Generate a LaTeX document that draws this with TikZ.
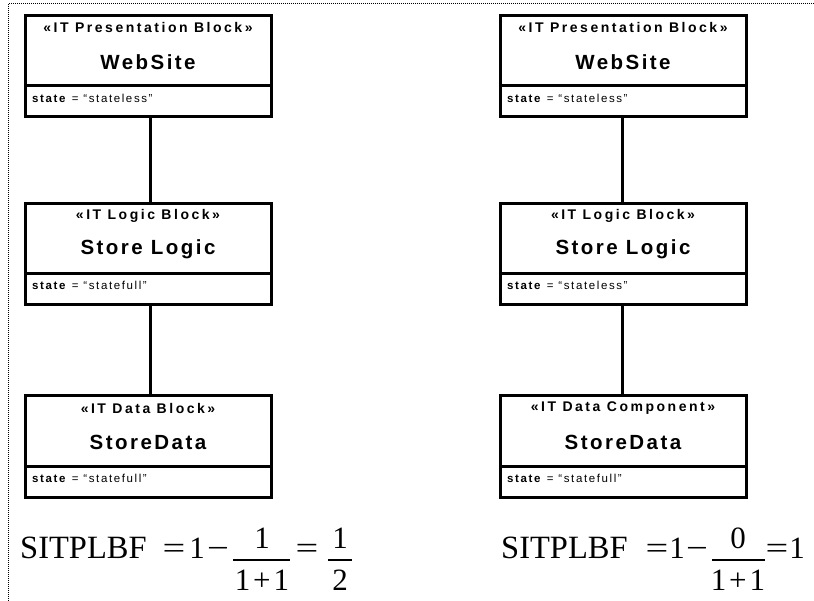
\documentclass[tikz,border=0pt]{standalone}
\usepackage{graphicx}
\usepackage{fontspec}
\newfontfamily\stereofont[LetterSpace=18]{Liberation Sans}
\newfontfamily\namefont[LetterSpace=12]{Liberation Sans}
\newfontfamily\statefont[LetterSpace=14]{Liberation Sans}
\newfontfamily\timesfont{Liberation Serif}
\newcommand{\wideeq}{\scalebox{1.3}[1]{=}}
\newcommand{\widemin}{\scalebox{1.25}[1]{−}}
\tikzset{
  umlbox/.style={draw, line width=3pt, minimum width=246pt, minimum height=101pt, inner sep=0pt, outer sep=0pt},
  divline/.style={line width=3pt},
  conn/.style={line width=3pt},
  stereo/.style={inner sep=0pt, font=\stereofont\bfseries\fontsize{14}{16}\selectfont},
  bname/.style={inner sep=0pt, font=\namefont\bfseries\fontsize{20.5}{24}\selectfont},
  stattxt/.style={inner sep=0pt, anchor=west, font=\statefont\fontsize{11.5}{13}\selectfont},
  frm/.style={inner sep=0pt, anchor=base, font=\timesfont\fontsize{31}{35}\selectfont},
  frmw/.style={frm, anchor=base west, font=\timesfont\fontsize{32.5}{36}\selectfont},
  fbar/.style={line width=1.3pt},
  frame/.style={line width=1pt, dash pattern=on 1pt off 1pt}
}
\newcommand{\umlblock}[6]{%
  % #1 name prefix, #2 x center, #3 y center, #4 stereotype, #5 name, #6 state value
  \node[umlbox] (#1) at (#2,#3) {};
  \node[stereo] (#1s) at ([yshift=-12pt]#1.north) {«#4»};
  \node[bname] (#1n) at ([yshift=-46pt]#1.north) {#5};
  \coordinate (#1dl) at ([yshift=31pt]#1.south west);
  \coordinate (#1dr) at ([yshift=31pt]#1.south east);
  \draw[divline] (#1dl) -- (#1dr);
  \node[stattxt] (#1t) at ([xshift=7pt,yshift=19pt]#1.south west) {\textbf{state} = “#6”};
}
\begin{document}
\begin{tikzpicture}[x=1pt,y=-1pt]
\useasboundingbox (0,0) rectangle (814,601);
\coordinate (fa) at (8,4);
\coordinate (fb) at (814,4);
\coordinate (fc) at (8,601);
\draw[frame] (fb) -- (fa) -- (fc);

\umlblock{L1}{148}{66.5}{IT Presentation Block}{WebSite}{stateless}
\umlblock{L2}{148}{254}{IT Logic Block}{Store Logic}{statefull}
\umlblock{L3}{148}{446.5}{IT Data Block}{StoreData}{statefull}
\umlblock{R1}{623}{66.5}{IT Presentation Block}{WebSite}{stateless}
\umlblock{R2}{623}{254}{IT Logic Block}{Store Logic}{stateless}
\umlblock{R3}{623}{446.5}{IT Data Component}{StoreData}{statefull}

\draw[conn] ([xshift=2pt]L1.south) -- ([xshift=2pt]L2.north);
\draw[conn] ([xshift=2pt]L2.south) -- ([xshift=2pt]L3.north);
\draw[conn] ([xshift=-1pt]R1.south) -- ([xshift=-1pt]R2.north);
\draw[conn] ([xshift=-1pt]R2.south) -- ([xshift=-1pt]R3.north);

% left formula
\node[frmw] (lf0) at (20,558) {SITPLBF};
\node[frm] (lf1) at (174,558) {\wideeq};
\node[frm] (lf2) at (197,558) {1};
\node[frm] (lf3) at (218,558) {\widemin};
\node[frm] (lf4) at (262,548) {1};
\node[frm] (lf5) at (262,590) {1\kern3pt+\kern3pt1};
\coordinate (lb1a) at (233,560); \coordinate (lb1b) at (290,560);
\draw[fbar] (lb1a) -- (lb1b);
\node[frm] (lf6) at (307,558) {\wideeq};
\node[frm] (lf7) at (340,548) {1};
\node[frm] (lf8) at (340,590) {2};
\coordinate (lb2a) at (328,560); \coordinate (lb2b) at (352,560);
\draw[fbar] (lb2a) -- (lb2b);

% right formula
\node[frmw] (rf0) at (501,558) {SITPLBF};
\node[frm] (rf1) at (657,558) {\wideeq};
\node[frm] (rf2) at (677,558) {1};
\node[frm] (rf3) at (697,558) {\widemin};
\node[frm] (rf4) at (738,548) {0};
\node[frm] (rf5) at (738,590) {1\kern3pt+\kern3pt1};
\coordinate (rb1a) at (712,560); \coordinate (rb1b) at (765,560);
\draw[fbar] (rb1a) -- (rb1b);
\node[frm] (rf6) at (777,558) {\wideeq};
\node[frm] (rf7) at (797,558) {1};
\end{tikzpicture}
\end{document}
